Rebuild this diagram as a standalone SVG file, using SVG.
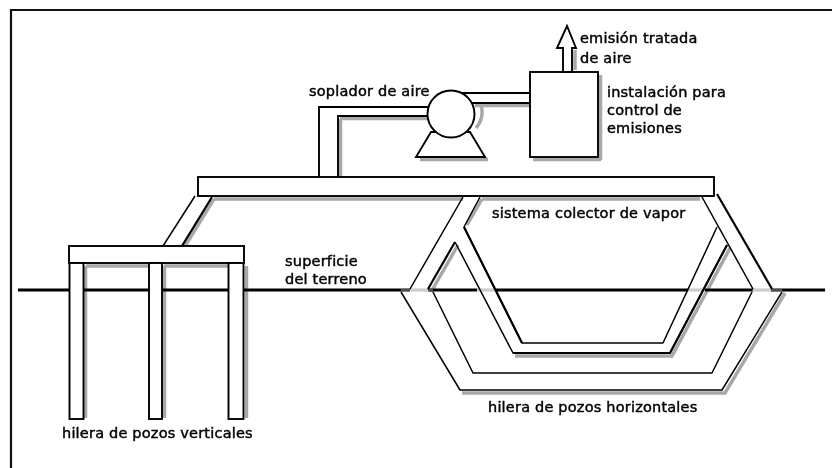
<svg xmlns="http://www.w3.org/2000/svg" width="832" height="468" viewBox="0 0 832 468">
<style>
.l{fill:none;stroke:#000;stroke-width:1.500;stroke-linejoin:round}
.t{fill:none;stroke:#000;stroke-width:2.200;stroke-linejoin:round}
.b{fill:#fff;stroke:#000;stroke-width:1.900}
.s{fill:none;stroke:#a8a8a8;stroke-width:3.500}
.g{fill:none;stroke:#999;stroke-width:1.200}
text{font-family:"DejaVu Sans",Verdana,sans-serif;font-size:14.500px;letter-spacing:.2px;fill:#000;stroke:#000;stroke-width:.45}
</style>
<defs>
<filter id="bl" x="0" y="0" width="832" height="468" filterUnits="userSpaceOnUse"><feGaussianBlur stdDeviation="0.5"/></filter>
</defs>
<rect width="832" height="468" fill="#fff"/>
<path d="M11 468V10H832" fill="none" stroke="#111" stroke-width="2.200"/>
<g filter="url(#bl)">
<g id="connectors">
<path class="s" d="M340.500 119V176M340 118.500H428M475 105.500H530M214 199L185 246M482 199L467 225M458 245L431 292M515 356H672L730 248M462 393H725L785 293M214 199H463M482 199H700M86 266H149M164 266H228M85.500 266V418M164.500 266V418M246.500 266V418M600.500 75V160M533 159.500H601M420 159.500H488M476 96A24 24 0 0 1 476 128M575 50V70"/>
<path d="M18 290H825" stroke="#000" stroke-width="2.800" fill="none"/>
<path d="M410 290H428M477 290H495M688 290H705M753 290H771" stroke="#fff" stroke-width="3.400" fill="none"/>
<path class="g" d="M401 290H433M477 290H495M688 290H705M752 290H782"/>
<path class="l" d="M195 196L163 246"/><path class="t" d="M212 197L182 246"/>
<path class="l" d="M463 197L410 289M480 197L464 227"/>
<path class="l" d="M702 197L753 289"/><path class="t" d="M717 194L772 289"/>
<path class="l" d="M401 292L460 390H722L782 292"/>
<path class="l" d="M433 292L473 373H712L752 292"/>
<path class="l" d="M464 227L522 343H663L717 227"/>
<path class="l" d="M455 242L513 353H670L727 245"/>
<path class="t" d="M513 353H670L727 245M455 242L428 289M464 227L522 343"/>
<path class="b" d="M319 177V107H430V116H338V177"/>
<path class="b" d="M460 93H530V103H460Z"/>
</g>
<g id="header"><rect class="b" x="198" y="177" width="516" height="19"/></g>
<g id="manifold"><rect class="b" x="69" y="246" width="175" height="17"/></g>
<g id="well-1"><rect class="b" x="69.500" y="263" width="14" height="156"/></g>
<g id="well-2"><rect class="b" x="149" y="263" width="13" height="156"/></g>
<g id="well-3"><rect class="b" x="228.500" y="263" width="15" height="156"/></g>
<g id="blower">
<path class="b" d="M431 132L416 157H485L470 132Z"/>
<circle class="b" cx="451" cy="114" r="23.500"/>
</g>
<g id="control-unit"><rect class="b" x="530" y="72" width="68" height="85"/></g>
<g id="emission-arrow"><path class="b" d="M563 72V48H557L567 26L576 48H572V72Z"/></g>
<g id="labels">
<text x="309" y="96">soplador de aire</text>
<text x="580" y="43">emisión tratada</text>
<text x="580" y="63">de aire</text>
<text x="607" y="97">instalación para</text>
<text x="607" y="115">control de</text>
<text x="607" y="133">emisiones</text>
<text x="492" y="218">sistema colector de vapor</text>
<text x="285" y="266">superficie</text>
<text x="285" y="284">del terreno</text>
<text x="488" y="412">hilera de pozos horizontales</text>
<text x="62" y="438">hilera de pozos verticales</text>
</g>
</g>
</svg>
